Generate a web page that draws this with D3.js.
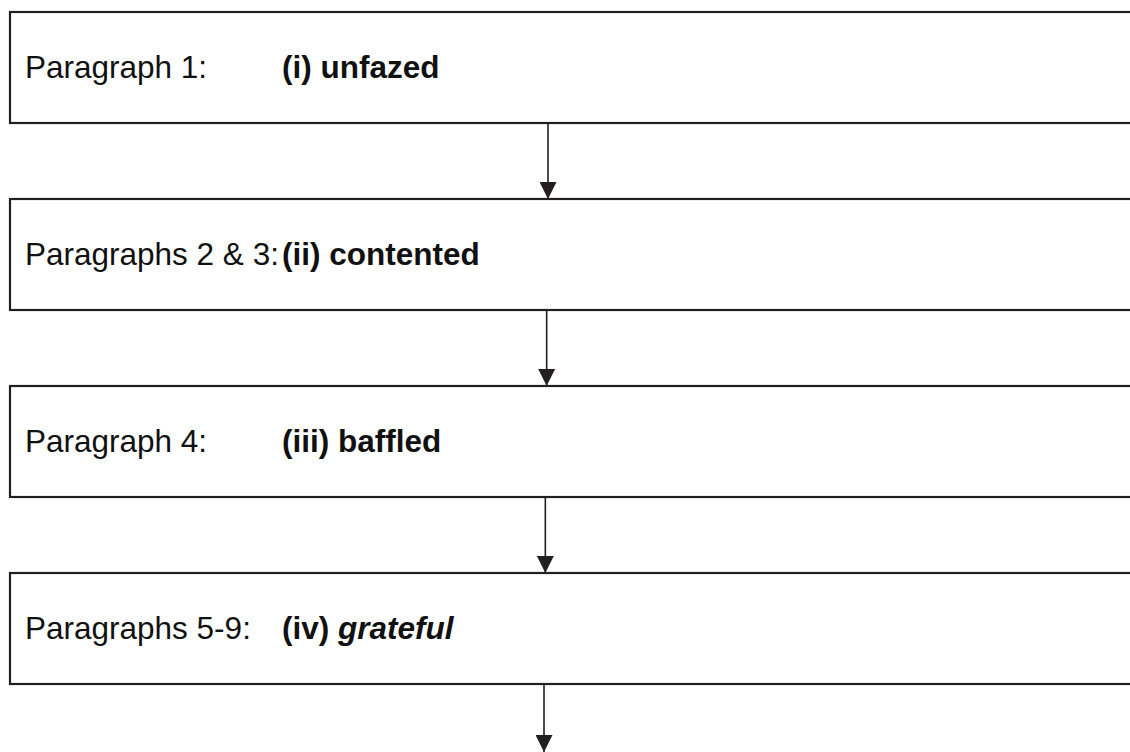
<!DOCTYPE html>
<html>
<head>
<meta charset="utf-8">
<script src="https://cdn.jsdelivr.net/npm/d3@7"></script>
<style>
  html, body { margin: 0; padding: 0; background: #fff; }
  svg { display: block; }
</style>
</head>
<body>
<svg id="chart" width="1130" height="752"></svg>
<script>
// ---- data ----
const stepIndex = [0, 1, 2, 3];
const paragraphLabels = ["Paragraph 1:", "Paragraphs 2 & 3:", "Paragraph 4:", "Paragraphs 5-9:"];
const numerals = ["(i)", "(ii)", "(iii)", "(iv)"];
const feelings = ["unfazed", "contented", "baffled", "grateful"];
const italicFeeling = [false, false, false, true];

// ---- layout ----
const W = 1130, H = 752;
const svg = d3.select("#chart");
const stroke = "#231f20";

const y = d3.scaleLinear().domain([0, 4]).range([12, 760]);
const boxH = 111;
const boxLeft = 10, boxRight = 1145;
const arrowX = d3.scaleLinear().domain([0, 3]).range([548, 544]);
const boldX = 282;

const defs = svg.append("defs");
defs.append("marker")
  .attr("id", "arrow")
  .attr("viewBox", "0 0 10 10")
  .attr("refX", 10).attr("refY", 5)
  .attr("markerUnits", "userSpaceOnUse")
  .attr("markerWidth", 17).attr("markerHeight", 17)
  .attr("orient", "auto")
  .append("path")
  .attr("d", "M0,0 L10,5 L0,10 Z")
  .attr("fill", stroke);

// boxes
svg.selectAll("rect.box").data(stepIndex).join("rect")
  .attr("class", "box")
  .attr("x", boxLeft)
  .attr("y", d => y(d))
  .attr("width", boxRight - boxLeft)
  .attr("height", boxH)
  .attr("fill", "none")
  .attr("stroke", stroke)
  .attr("stroke-width", 2.2);

// arrows
svg.selectAll("line.arrow").data(stepIndex).join("line")
  .attr("class", "arrow")
  .attr("x1", d => arrowX(d)).attr("x2", d => arrowX(d))
  .attr("y1", d => y(d) + boxH)
  .attr("y2", d => Math.min(y(d + 1), H))
  .attr("stroke", stroke)
  .attr("stroke-width", 1.6)
  .attr("marker-end", "url(#arrow)");

// texts
const t = svg.selectAll("text.lbl").data(stepIndex).join("text")
  .attr("class", "lbl")
  .attr("x", 25)
  .attr("y", d => y(d) + 66)
  .attr("font-family", "Liberation Sans, Arial, sans-serif")
  .attr("font-size", 31.5)
  .attr("fill", "#111");

t.append("tspan").text(d => paragraphLabels[d]);
t.append("tspan")
  .attr("x", boldX)
  .attr("font-weight", "bold")
  .text(d => numerals[d] + " ");
t.append("tspan")
  .attr("font-weight", "bold")
  .attr("font-style", d => italicFeeling[d] ? "italic" : "normal")
  .text(d => feelings[d]);
</script>
</body>
</html>
